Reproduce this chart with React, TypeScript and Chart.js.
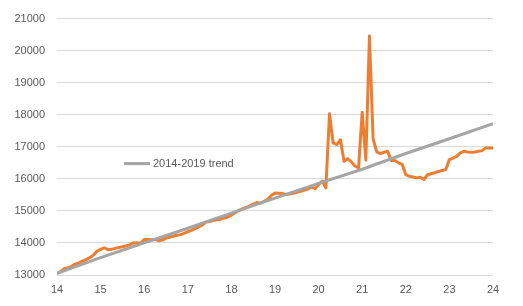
import React, { useEffect, useRef } from "react";
import { Chart, registerables } from "chart.js";

Chart.register(...registerables);

// Monthly actual values, Jan 2014 .. Jan 2024
const actualValues: number[] = [
  // 2014
  13050, 13110, 13200, 13230, 13270, 13340, 13380, 13430, 13480, 13540, 13620, 13740,
  // 2015
  13800, 13850, 13790, 13800, 13830, 13860, 13880, 13910, 13940, 14000, 14010, 13990,
  // 2016
  14110, 14110, 14100, 14110, 14070, 14090, 14150, 14180, 14210, 14240, 14260, 14300,
  // 2017
  14350, 14390, 14450, 14500, 14560, 14650, 14670, 14700, 14720, 14740, 14780, 14810,
  // 2018
  14870, 14940, 15010, 15060, 15110, 15150, 15210, 15260, 15240, 15300, 15360, 15480,
  // 2019
  15560, 15550, 15540, 15510, 15530, 15550, 15580, 15610, 15640, 15680, 15750, 15690,
  // 2020
  15820, 15930, 15720, 18030, 17120, 17070, 17220, 16550, 16630, 16530, 16400, 16340,
  // 2021
  18080, 16580, 20460, 17250, 16840, 16790, 16830, 16860, 16570, 16570, 16500, 16450,
  // 2022
  16130, 16080, 16060, 16030, 16050, 15980, 16130, 16160, 16190, 16230, 16260, 16290,
  // 2023
  16600, 16650, 16700, 16810, 16860, 16840, 16830, 16840, 16860, 16880, 16960, 16960,
  // 2024
  16960,
];

// 2014-2019 trend, values at the start of each year
const trendYears: number[] = [14, 15, 16, 17, 18, 19, 20, 21, 22, 23, 24];
const trendValues: number[] = [13050, 13540, 14000, 14460, 14930, 15400, 15860, 16300, 16790, 17250, 17720];

const startYear = 14;
const legendLabel = "2014-2019 trend";

const FONT = "'Liberation Sans', Arial, sans-serif";
const TEXT_COLOR = "#595959";
const ORANGE = "#ED7D31";
const GRAY = "#A5A5A5";

const legendPlugin = {
  id: "customLegend",
  afterDraw(chart: any) {
    const ctx = chart.ctx;
    const area = chart.chartArea;
    const x0 = area.left + 67;
    const y0 = area.top + 145;
    ctx.save();
    ctx.strokeStyle = GRAY;
    ctx.lineWidth = 3;
    ctx.beginPath();
    ctx.moveTo(x0, y0);
    ctx.lineTo(x0 + 26, y0);
    ctx.stroke();
    ctx.fillStyle = TEXT_COLOR;
    ctx.font = `11px ${FONT}`;
    ctx.textBaseline = "middle";
    ctx.textAlign = "left";
    ctx.fillText(legendLabel, x0 + 29, y0);
    ctx.restore();
  },
};

export default function App() {
  const canvasRef = useRef<HTMLCanvasElement | null>(null);

  useEffect(() => {
    if (!canvasRef.current) return;
    const actualData = actualValues.map((v, i) => ({ x: startYear + i / 12, y: v }));
    const trendData = trendYears.map((yr, i) => ({ x: yr, y: trendValues[i] }));

    const chart = new Chart(canvasRef.current, {
      type: "line",
      data: {
        datasets: [
          {
            label: legendLabel,
            data: trendData,
            borderColor: GRAY,
            backgroundColor: GRAY,
            borderWidth: 3,
            pointRadius: 0,
            tension: 0,
            borderJoinStyle: "round",
          },
          {
            label: "Actual",
            data: actualData,
            borderColor: ORANGE,
            backgroundColor: ORANGE,
            borderWidth: 3,
            pointRadius: 0,
            tension: 0,
            borderJoinStyle: "round",
          },
        ],
      },
      options: {
        responsive: false,
        animation: false,
        layout: { padding: { left: 0, top: 18, right: 30, bottom: 0 } },
        plugins: {
          legend: { display: false },
          tooltip: { enabled: false },
        },
        scales: {
          x: {
            type: "linear",
            min: 14,
            max: 24,
            afterFit: (scale: any) => {
              scale.height = 31;
            },
            grid: { display: false, drawTicks: false },
            border: { display: false },
            ticks: {
              stepSize: 1,
              padding: 8,
              color: TEXT_COLOR,
              font: { family: FONT, size: 11 },
              callback: (v: any) => String(v),
            },
          },
          y: {
            min: 13000,
            max: 21000,
            afterFit: (scale: any) => {
              scale.width = 57;
            },
            grid: { color: "#D9D9D9", lineWidth: 1, drawTicks: false },
            border: { display: false },
            ticks: {
              stepSize: 1000,
              padding: 12,
              color: TEXT_COLOR,
              font: { family: FONT, size: 11 },
              callback: (v: any) => String(v),
            },
          },
        },
      },
      plugins: [legendPlugin],
    } as any);
    return () => chart.destroy();
  }, []);

  return (
    <div style={{ position: "absolute", left: 0, top: 0, width: 523, height: 306, background: "#fff" }}>
      <canvas ref={canvasRef} width={523} height={306} style={{ display: "block" }} />
    </div>
  );
}
